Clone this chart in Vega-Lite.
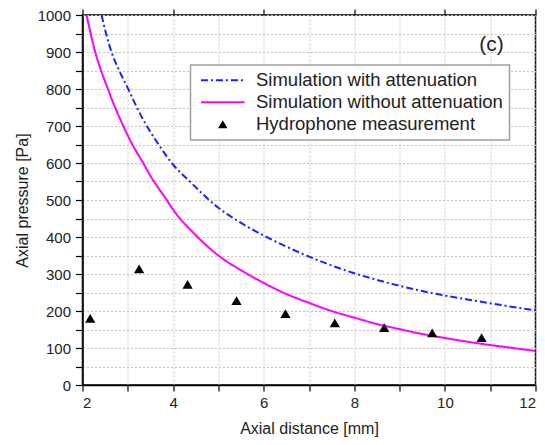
{
  "$schema": "https://vega.github.io/schema/vega-lite/v6.json",
  "width": 453,
  "height": 370,
  "padding": {"left": 13.5, "top": 8, "right": 0, "bottom": 5},
  "background": "white",
  "config": {
    "font": "Liberation Sans",
    "view": {"stroke": "black", "strokeWidth": 1.5},
    "axis": {
      "labelFont": "Liberation Sans",
      "titleFont": "Liberation Sans",
      "labelFontSize": 15,
      "titleFontSize": 16,
      "titleFontWeight": "normal",
      "labelColor": "#222",
      "titleColor": "#222",
      "domainColor": "black",
      "domainWidth": 1.5,
      "tickColor": "black",
      "tickWidth": 1.2,
      "gridColor": "#c4c4c4",
      "gridDash": [2, 2],
      "gridWidth": 1,
      "labelOverlap": false
    },
    "legend": {"labelFont": "Liberation Sans"}
  },
  "datasets": {
    "curves": [
      {"series": "Simulation with attenuation", "x": 2.42, "y": 1000},
      {"series": "Simulation with attenuation", "x": 2.52, "y": 950},
      {"series": "Simulation with attenuation", "x": 2.64, "y": 900},
      {"series": "Simulation with attenuation", "x": 2.81, "y": 850},
      {"series": "Simulation with attenuation", "x": 3.01, "y": 800},
      {"series": "Simulation with attenuation", "x": 3.2, "y": 750},
      {"series": "Simulation with attenuation", "x": 3.42, "y": 700},
      {"series": "Simulation with attenuation", "x": 3.68, "y": 650},
      {"series": "Simulation with attenuation", "x": 3.97, "y": 600},
      {"series": "Simulation with attenuation", "x": 4.37, "y": 550},
      {"series": "Simulation with attenuation", "x": 5.0, "y": 479},
      {"series": "Simulation with attenuation", "x": 5.5, "y": 438},
      {"series": "Simulation with attenuation", "x": 6.0, "y": 404},
      {"series": "Simulation with attenuation", "x": 6.5, "y": 374},
      {"series": "Simulation with attenuation", "x": 7.0, "y": 347},
      {"series": "Simulation with attenuation", "x": 7.5, "y": 323},
      {"series": "Simulation with attenuation", "x": 8.0, "y": 302},
      {"series": "Simulation with attenuation", "x": 8.5, "y": 284},
      {"series": "Simulation with attenuation", "x": 9.0, "y": 268},
      {"series": "Simulation with attenuation", "x": 9.5, "y": 254},
      {"series": "Simulation with attenuation", "x": 10.0, "y": 242},
      {"series": "Simulation with attenuation", "x": 10.5, "y": 231},
      {"series": "Simulation with attenuation", "x": 11.0, "y": 221},
      {"series": "Simulation with attenuation", "x": 11.5, "y": 211},
      {"series": "Simulation with attenuation", "x": 12.0, "y": 202},
      {"series": "Simulation without attenuation", "x": 2.09, "y": 1000},
      {"series": "Simulation without attenuation", "x": 2.18, "y": 950},
      {"series": "Simulation without attenuation", "x": 2.28, "y": 900},
      {"series": "Simulation without attenuation", "x": 2.41, "y": 850},
      {"series": "Simulation without attenuation", "x": 2.56, "y": 800},
      {"series": "Simulation without attenuation", "x": 2.72, "y": 750},
      {"series": "Simulation without attenuation", "x": 2.9, "y": 700},
      {"series": "Simulation without attenuation", "x": 3.1, "y": 650},
      {"series": "Simulation without attenuation", "x": 3.34, "y": 600},
      {"series": "Simulation without attenuation", "x": 3.5, "y": 565},
      {"series": "Simulation without attenuation", "x": 3.86, "y": 500},
      {"series": "Simulation without attenuation", "x": 4.0, "y": 474},
      {"series": "Simulation without attenuation", "x": 4.5, "y": 405},
      {"series": "Simulation without attenuation", "x": 5.0, "y": 350},
      {"series": "Simulation without attenuation", "x": 5.5, "y": 310},
      {"series": "Simulation without attenuation", "x": 6.0, "y": 276},
      {"series": "Simulation without attenuation", "x": 6.5, "y": 246},
      {"series": "Simulation without attenuation", "x": 7.0, "y": 222},
      {"series": "Simulation without attenuation", "x": 7.5, "y": 200},
      {"series": "Simulation without attenuation", "x": 8.0, "y": 182},
      {"series": "Simulation without attenuation", "x": 8.5, "y": 165},
      {"series": "Simulation without attenuation", "x": 9.0, "y": 151},
      {"series": "Simulation without attenuation", "x": 9.5, "y": 138},
      {"series": "Simulation without attenuation", "x": 10.0, "y": 127},
      {"series": "Simulation without attenuation", "x": 10.5, "y": 117},
      {"series": "Simulation without attenuation", "x": 11.0, "y": 108},
      {"series": "Simulation without attenuation", "x": 11.5, "y": 100},
      {"series": "Simulation without attenuation", "x": 12.0, "y": 92}
    ],
    "measure": [
      {"series": "Hydrophone measurement", "x": 2.17, "y": 180},
      {"series": "Hydrophone measurement", "x": 3.25, "y": 314},
      {"series": "Hydrophone measurement", "x": 4.32, "y": 272},
      {"series": "Hydrophone measurement", "x": 5.4, "y": 228},
      {"series": "Hydrophone measurement", "x": 6.48, "y": 193},
      {"series": "Hydrophone measurement", "x": 7.57, "y": 168},
      {"series": "Hydrophone measurement", "x": 8.66, "y": 155},
      {"series": "Hydrophone measurement", "x": 9.72, "y": 141},
      {"series": "Hydrophone measurement", "x": 10.81, "y": 128}
    ],
    "panel": [
      {"x": 11.03, "y": 920, "label": "(c)"}
    ]
  },
  "resolve": {"axis": {"x": "independent", "y": "independent"}},
  "layer": [
    {
      "data": {"name": "curves"},
      "mark": {"type": "line", "strokeWidth": 2, "clip": true, "interpolate": "monotone"},
      "encoding": {
        "x": {
          "field": "x", "type": "quantitative",
          "scale": {"domain": [2, 12], "nice": false, "zero": false},
          "axis": {
            "title": "Axial distance [mm]",
            "values": [2, 3, 4, 5, 6, 7, 8, 9, 10, 11, 12],
            "labelExpr": "datum.value % 2 === 0 ? datum.label : ''",
            "labelOverlap": false,
            "tickSize": 6,
            "labelPadding": 4,
            "titlePadding": 10,
            "encode": {"ticks": {"update": {"y2": {"signal": "datum.value % 2 === 0 ? 6 : 4"}}}}
          }
        },
        "y": {
          "field": "y", "type": "quantitative",
          "scale": {"domain": [0, 1000], "nice": false, "zero": true},
          "axis": {
            "title": "Axial pressure [Pa]",
            "values": [0, 50, 100, 150, 200, 250, 300, 350, 400, 450, 500, 550, 600, 650, 700, 750, 800, 850, 900, 950, 1000],
            "format": "d",
            "labelExpr": "datum.value % 100 === 0 ? datum.label : ''",
            "labelOverlap": false,
            "tickSize": 7,
            "labelPadding": 5,
            "titlePadding": 7,
            "encode": {"ticks": {"update": {"x2": {"signal": "datum.value % 100 === 0 ? -7 : -4"}}}}
          }
        },
        "color": {
          "field": "series", "type": "nominal",
          "scale": {
            "domain": ["Simulation with attenuation", "Simulation without attenuation", "Hydrophone measurement"],
            "range": ["#1f1fff", "#ff00ff", "#000000"]
          },
          "legend": {
            "title": null,
            "orient": "none",
            "legendX": 108,
            "legendY": 50,
            "padding": 6,
            "fillColor": "white",
            "strokeColor": "#a0a0a0",
            "labelFontSize": 18.5,
            "labelColor": "#222",
            "labelLimit": 400,
            "symbolSize": 1900,
            "symbolType": "stroke",
            "symbolOffset": 17,
            "labelOffset": 24,
            "rowPadding": 3,
            "encode": {
              "legend": {"update": {"strokeWidth": {"value": 1.5}}},
              "symbols": {
                "update": {
                  "shape": {"signal": "datum.value === 'Hydrophone measurement' ? 'triangle-up' : 'stroke'"},
                  "size": {"signal": "datum.value === 'Hydrophone measurement' ? 90 : 1900"},
                  "stroke": {"signal": "datum.value === 'Simulation with attenuation' ? '#1f1fff' : datum.value === 'Simulation without attenuation' ? '#ff00ff' : 'black'"},
                  "fill": {"signal": "datum.value === 'Hydrophone measurement' ? 'black' : 'transparent'"},
                  "strokeDash": {"signal": "datum.value === 'Simulation with attenuation' ? [7, 3, 2, 3] : [1, 0]"},
                  "strokeWidth": {"signal": "datum.value === 'Hydrophone measurement' ? 0 : 2"},
                  "opacity": {"value": 1}
                }
              }
            }
          }
        },
        "strokeDash": {
          "field": "series", "type": "nominal",
          "scale": {
            "domain": ["Simulation with attenuation", "Simulation without attenuation"],
            "range": [[7, 3, 2, 3], [1, 0]]
          },
          "legend": null
        }
      }
    },
    {
      "data": {"name": "measure"},
      "mark": {"type": "point", "shape": "triangle-up", "filled": true, "size": 105, "opacity": 1},
      "encoding": {
        "x": {
          "field": "x", "type": "quantitative",
          "scale": {"domain": [2, 12], "nice": false, "zero": false},
          "axis": {
            "orient": "top",
            "title": null,
            "labels": false,
            "grid": false,
            "domain": false,
            "values": [2, 4, 6, 8, 10, 12],
            "tickSize": 6,
            "encode": {"ticks": {"update": {"y2": {"value": 6}}}}
          }
        },
        "y": {"field": "y", "type": "quantitative", "axis": null},
        "color": {"field": "series", "type": "nominal"}
      }
    },
    {
      "data": {"name": "panel"},
      "mark": {"type": "text", "fontSize": 21, "font": "Liberation Sans", "color": "#222", "align": "center", "baseline": "middle"},
      "encoding": {
        "x": {"field": "x", "type": "quantitative", "axis": null},
        "y": {"field": "y", "type": "quantitative", "axis": null},
        "text": {"field": "label"}
      }
    }
  ]
}
